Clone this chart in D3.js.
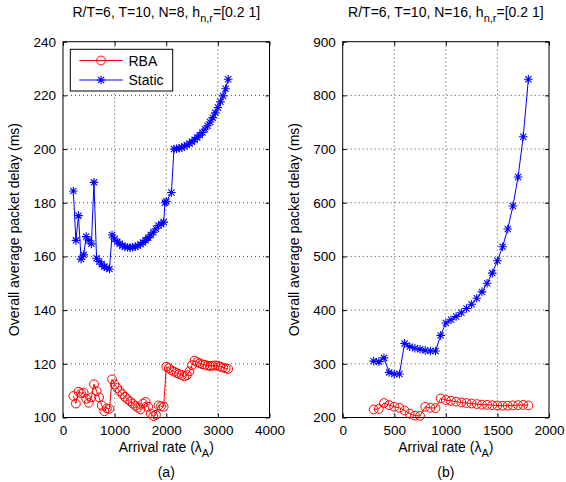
<!DOCTYPE html>
<html>
<head>
<meta charset="utf-8">
<script src="https://cdn.jsdelivr.net/npm/d3@7"></script>
<style>
  body { margin: 0; background: #fff; }
  svg { display: block; font-family: "Liberation Sans", Arial, Helvetica, sans-serif; }
  .grid line { stroke: #000; stroke-dasharray: 1,3; stroke-width: 1; opacity: .7; }
  .tick text { font-size: 13.5px; fill: #000; }
</style>
</head>
<body>
<div id="chart"></div>
<script>
// panel (a): N=8
const aRbaX = [200,250,300,350,400,450,500,550,600,650,700,750,800,850,900,950,
  1000,1050,1100,1150,1200,1250,1300,1350,1400,1450,1500,1550,1600,1650,1700,1750,1800,1850,1900,1950,
  2000,2050,2100,2150,2200,2250,2300,2350,2400,2450,2500,2550,2600,2650,2700,2750,2800,2850,2900,2950,
  3000,3050,3100,3150,3200];
const aRbaY = [108,105.2,109.6,109,109.3,107,105.5,107.5,112.4,109.8,107.5,104.5,102.3,103.4,103.2,114.2,
  112.3,111,109.8,108.7,107.7,106.8,106,105.2,104.4,103.7,103,105.2,105.8,104,101.5,100.5,101,104.5,104.2,104,
  118.9,118.4,117.6,117.1,116.6,116.2,115.8,115.3,115.8,117.2,119.5,121.2,120.6,120.2,119.8,119.6,119.3,119.2,119.3,119.4,
  119.3,118.9,118.6,118.3,118.1];
const aStaticX = [200,250,300,350,400,450,500,550,600,650,700,750,800,850,900,950,
  1000,1050,1100,1150,1200,1250,1300,1350,1400,1450,1500,1550,1600,1650,1700,1750,1800,1850,1900,1950,
  1975,2000,2100,2150,2200,2250,2300,2350,2400,2450,2500,2550,2600,2650,2700,2750,2800,2850,2900,2950,
  3000,3050,3100,3150,3200];
const aStaticY = [184.4,166,175.2,159,160.6,167.4,166,164.7,187.6,159.3,158.1,157.1,156.2,155.8,155.3,168,
  166.5,165.5,164.7,164,163.6,163.4,163.3,163.4,163.6,164,164.5,165.2,166,167,168,169,170.3,171.5,172,172.8,
  180,180.5,183.8,200,200.1,200.3,200.6,201,201.5,202,202.7,203.5,204.3,205.2,206.2,207.4,208.7,210.1,211.7,213.5,
  215.5,217.6,219.8,222.5,226];

// panel (b): N=16
const bX = [300,350,400,450,500,550,600,650,700,750,800,850,900,950,1000,1050,1100,1150,1200,1250,
  1300,1350,1400,1450,1500,1550,1600,1650,1700,1750,1800];
const bRbaY = [215,216,227,223,220,218,213,207,203.5,203,220,218,217.5,235.5,232.5,231,229.5,228,227,226,
  225,224,223.5,223,222.5,222,222,222.5,223,223.5,222.5];
const bStaticY = [305,304,311,284,281,281,338,332,329,327,325,324,324,353,376,382,388,395,403,411,
  422,434,450,469,492,518,551,594,648,723,830];

const aXTicks = [0,1000,2000,3000,4000];
const aYTicks = [100,120,140,160,180,200,220,240];
const bXTicks = [0,500,1000,1500,2000];
const bYTicks = [200,300,400,500,600,700,800,900];

const W = 566, H = 482;
const svg = d3.select("#chart").append("svg").attr("width", W).attr("height", H);

const zip = (xs, ys) => xs.map((x, i) => ({ x, y: ys[i] }));

function starPath(r) {
  const d = r * 0.72;
  return `M${-r},0L${r},0M0,${-r}L0,${r}M${-d},${-d}L${d},${d}M${-d},${d}L${d},${-d}`;
}

function panel(o) {
  const g = svg.append("g");
  const x = d3.scaleLinear().domain(o.xd).range([o.l, o.r]);
  const y = d3.scaleLinear().domain(o.yd).range([o.b, o.t]);

  // grid
  g.append("g").attr("class", "grid").selectAll("line")
    .data(o.xt.slice(1, -1)).join("line")
    .attr("x1", d => x(d)).attr("x2", d => x(d)).attr("y1", o.t).attr("y2", o.b);
  g.append("g").attr("class", "grid").selectAll("line")
    .data(o.yt.slice(1, -1)).join("line")
    .attr("y1", d => y(d)).attr("y2", d => y(d)).attr("x1", o.l).attr("x2", o.r);

  // axes (ticks inward, box)
  g.append("g").attr("transform", `translate(0,${o.b})`)
    .call(d3.axisBottom(x).tickValues(o.xt).tickSizeInner(-4).tickSizeOuter(0).tickPadding(8).tickFormat(d3.format("d")))
    .call(a => a.select(".domain").remove());
  g.append("g").attr("transform", `translate(0,${o.t})`)
    .call(d3.axisTop(x).tickValues(o.xt).tickSizeInner(-4).tickSizeOuter(0).tickFormat(""))
    .call(a => a.select(".domain").remove());
  g.append("g").attr("transform", `translate(${o.l},0)`)
    .call(d3.axisLeft(y).tickValues(o.yt).tickSizeInner(-4).tickSizeOuter(0).tickPadding(7).tickFormat(d3.format("d")))
    .call(a => a.select(".domain").remove());
  g.append("g").attr("transform", `translate(${o.r},0)`)
    .call(d3.axisRight(y).tickValues(o.yt).tickSizeInner(-4).tickSizeOuter(0).tickFormat(""))
    .call(a => a.select(".domain").remove());
  g.selectAll(".tick line").attr("stroke", "#000");
  g.append("rect").attr("x", o.l).attr("y", o.t).attr("width", o.r - o.l).attr("height", o.b - o.t)
    .attr("fill", "none").attr("stroke", "#000").attr("stroke-width", 1);

  const line = d3.line().x(d => x(d.x)).y(d => y(d.y));

  // RBA
  const rba = zip(o.rbaX, o.rbaY);
  g.append("path").datum(rba).attr("d", line).attr("fill", "none").attr("stroke", "#f00").attr("stroke-width", 1);
  g.append("g").selectAll("circle").data(rba).join("circle")
    .attr("cx", d => x(d.x)).attr("cy", d => y(d.y)).attr("r", 4.4)
    .attr("fill", "none").attr("stroke", "#f00").attr("stroke-width", 1);

  // Static
  const st = zip(o.stX, o.stY);
  g.append("path").datum(st).attr("d", line).attr("fill", "none").attr("stroke", "#00f").attr("stroke-width", 1);
  g.append("g").selectAll("path").data(st).join("path")
    .attr("transform", d => `translate(${x(d.x)},${y(d.y)})`).attr("d", starPath(4.3))
    .attr("fill", "none").attr("stroke", "#00f").attr("stroke-width", 1.1);

  // title with subscript
  const cx = (o.l + o.r) / 2;
  const t = g.append("text").attr("x", cx).attr("y", 17).attr("text-anchor", "middle")
    .attr("font-size", 14);
  t.append("tspan").text(o.title);
  t.append("tspan").attr("dy", 5).attr("font-size", 11).text("n,r");
  t.append("tspan").attr("dy", -5).text("=[0.2 1]");

  // y label
  g.append("text").attr("transform", `translate(${o.l - 44},${(o.t + o.b) / 2}) rotate(-90)`)
    .attr("text-anchor", "middle").attr("font-size", 14).text("Overall average packet delay (ms)");

  // x label
  const xl = g.append("text").attr("x", cx).attr("y", 452).attr("text-anchor", "middle").attr("font-size", 14);
  xl.append("tspan").text("Arrival rate (\u03bb");
  xl.append("tspan").attr("dy", 5).attr("font-size", 11).text("A");
  xl.append("tspan").attr("dy", -5).text(")");

  g.append("text").attr("x", cx).attr("y", 477).attr("text-anchor", "middle").attr("font-size", 14).text(o.tag);
  return g;
}

const gA = panel({ l: 63, r: 269.5, t: 41.7, b: 417.5, xd: [0, 4000], yd: [100, 240],
  xt: aXTicks, yt: aYTicks, rbaX: aRbaX, rbaY: aRbaY, stX: aStaticX, stY: aStaticY,
  title: "R/T=6, T=10, N=8, h", tag: "(a)" });
panel({ l: 342.7, r: 549, t: 41.7, b: 417.5, xd: [0, 2000], yd: [200, 900],
  xt: bXTicks, yt: bYTicks, rbaX: bX, rbaY: bRbaY, stX: bX, stY: bStaticY,
  title: "R/T=6, T=10, N=16, h", tag: "(b)" });

// legend (panel a)
const lg = gA.append("g");
lg.append("rect").attr("x", 70.3).attr("y", 49.3).attr("width", 102.4).attr("height", 41.7)
  .attr("fill", "#fff").attr("stroke", "#000").attr("stroke-width", 1);
const items = [{ name: "RBA", c: "#f00", m: "o" }, { name: "Static", c: "#00f", m: "*" }];
items.forEach((it, i) => {
  const yy = 60.5 + i * 19.5;
  lg.append("line").attr("x1", 79.3).attr("x2", 122.7).attr("y1", yy).attr("y2", yy)
    .attr("stroke", it.c).attr("stroke-width", 1);
  if (it.m === "o") lg.append("circle").attr("cx", 101).attr("cy", yy).attr("r", 4.4)
    .attr("fill", "none").attr("stroke", it.c);
  else lg.append("path").attr("transform", `translate(101,${yy})`).attr("d", starPath(4.3))
    .attr("fill", "none").attr("stroke", it.c).attr("stroke-width", 1.1);
  lg.append("text").attr("x", 128.5).attr("y", yy + 5).attr("font-size", 14).text(it.name);
});
</script>
</body>
</html>
